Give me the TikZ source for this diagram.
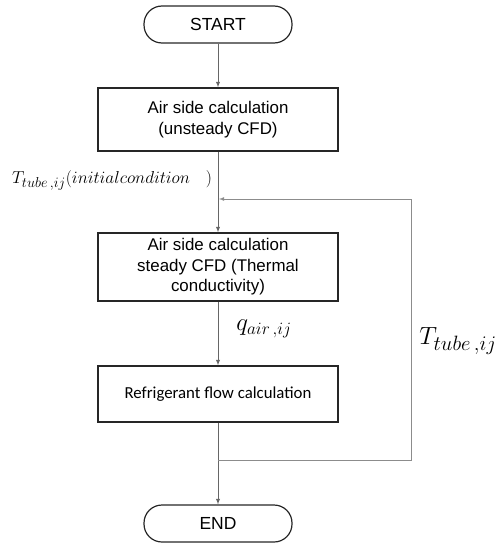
\documentclass[tikz,border=0pt]{standalone}
\usepackage{fontspec}
\setmainfont{Liberation Sans}
\newfontfamily\calfont{Carlito}
\usetikzlibrary{positioning}

\tikzset{
  terminal/.style={draw=black!85, line width=1.2pt, rounded corners=18pt,
    minimum width=148pt, minimum height=37pt, inner sep=0pt,
    font=\fontsize{17.5}{20}\selectfont},
  process/.style={draw=black!85, line width=1.3pt, minimum width=240pt,
    align=center, inner sep=0pt, font=\fontsize{16.9}{20.5}\selectfont},
  flow/.style={draw=black!60, line width=0.9pt, -latex},
  feedback/.style={draw=black!45, line width=0.8pt, -latex},
}

\begin{document}
\begin{tikzpicture}[x=1pt,y=1pt,yscale=-1]
\useasboundingbox (0,0) rectangle (497,543);

% steps of the calculation
\node[terminal] (start) at (218,24.5) {START};
\node[process, minimum height=63pt] (airUnsteady) at (218,119.5)
  {Air side calculation\\(unsteady CFD)};
\node[process, minimum height=68pt] (airSteady) at (218,267)
  {Air side calculation\\steady CFD (Thermal\\conductivity)};
\node[process, minimum height=56pt, font=\calfont\fontsize{16.8}{20}\selectfont] (refrig) at (218,394)
  {Refrigerant flow calculation};
\node[terminal] (end) at (218,523.5) {END};

% main flow
\draw[flow] (start) -- (airUnsteady);
\draw[flow] (airUnsteady) -- (airSteady);
\draw[flow] (airSteady) -- (refrig);
\draw[flow] (refrig) -- (end);

% loop back with the tube temperature
\coordinate (loopOut) at (218,460);
\coordinate (loopRight) at (411,460);
\coordinate (loopTop) at (411,199);
\coordinate (loopIn) at (219,199);
\draw[feedback] (loopOut) -- (loopRight) -- (loopTop) -- (loopIn);

% labels
\node (initLabel) at (112,180) {\fontsize{19}{22}\selectfont $T_{tube\,,ij}(initialcondition\ \ \ )$};
\node (qLabel) at (264,329) {\fontsize{27}{30}\selectfont $q_{air\,,ij}$};
\node (tLabel) at (458,341) {\fontsize{28}{32}\selectfont $T_{tube\,,ij}$};

\end{tikzpicture}
\end{document}
